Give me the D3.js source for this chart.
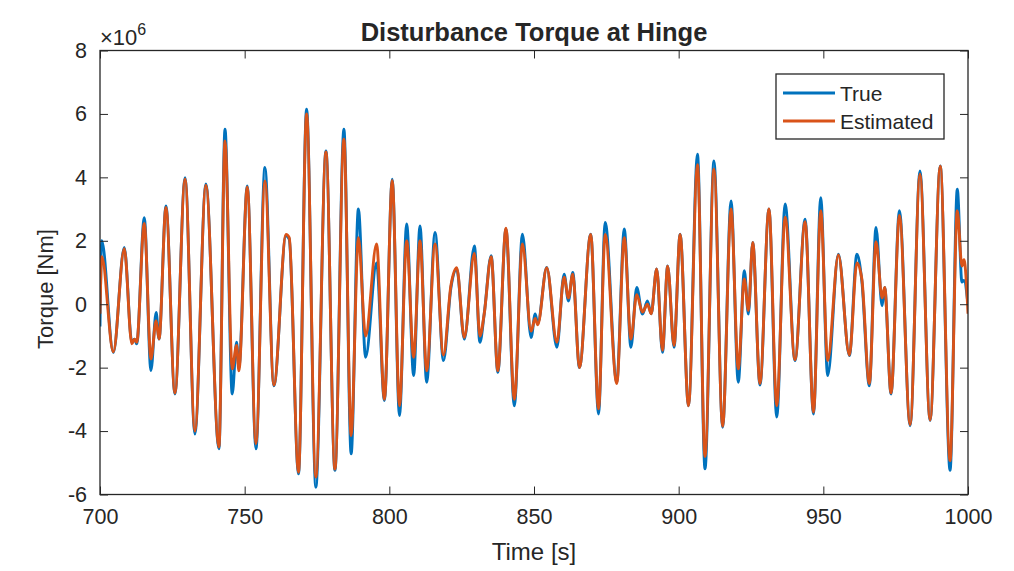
<!DOCTYPE html>
<html>
<head>
<meta charset="utf-8">
<script src="https://cdn.jsdelivr.net/npm/d3@7"></script>
<style>
    body { margin: 0; background: white; }
    text { font-family: "Liberation Sans", Arial, sans-serif; fill: #262626; }
</style>
</head>
<body>
<svg id="chart"></svg>
<script>
// sample times [s] at the turning points
const times = [700.0, 700.6, 704.6, 708.4, 711.0, 711.9, 712.7, 715.3, 717.6, 719.4, 720.4, 722.8, 725.9, 729.4, 732.8, 736.6,
    741.1, 743.2, 745.7, 747.2, 748.0, 750.9, 753.9, 757.0, 760.1, 764.3, 765.4, 768.6, 771.4, 774.6, 778.1, 781.2,
    784.3, 786.8, 789.3, 791.8, 795.6, 798.3, 801.0, 803.5, 806.0, 808.4, 810.6, 812.9, 815.8, 818.7, 821.3, 823.3,
    825.9, 829.4, 831.3, 832.8, 835.2, 837.5, 840.3, 843.2, 846.0, 849.0, 850.4, 851.3, 854.4, 857.9, 860.4, 861.9,
    863.4, 865.7, 869.6, 872.3, 874.6, 878.6, 881.2, 883.5, 885.5, 887.5, 889.2, 890.5, 892.4, 894.4, 896.2, 898.4,
    900.5, 903.4, 906.5, 909.1, 912.2, 915.2, 918.1, 920.6, 922.7, 924.1, 925.6, 928.1, 931.2, 933.9, 936.8, 940.2,
    943.7, 946.6, 949.1, 951.5, 955.2, 959.0, 961.6, 963.3, 965.9, 968.2, 970.3, 971.2, 973.4, 976.3, 980.0, 983.4,
    986.9, 990.4, 993.8, 996.3, 997.9, 998.6, 1000.0];
// torque [x 10^6 Nm]
const trueTorque = [-0.7, 2.0, -1.52, 1.79, -1.2, -1.1, -1.25, 2.73, -2.09, -0.26, -1.1, 3.1, -2.83, 3.99, -4.09, 3.79,
    -4.56, 5.52, -2.83, -1.2, -2.0, 3.73, -4.56, 4.31, -2.57, 2.16, 2.05, -5.35, 6.15, -5.77, 4.83, -5.24,
    5.52, -4.72, 3.0, -1.67, 1.3, -3.04, 3.94, -3.51, 2.53, -2.25, 2.47, -2.46, 2.26, -1.78, 0.53, 1.11,
    -1.1, 1.84, -1.2, -0.3, 1.53, -2.15, 2.37, -3.2, 2.21, -1.05, -0.31, -0.6, 1.16, -1.36, 0.95, 0.1,
    1.0, -2.0, 2.21, -3.46, 2.58, -2.46, 2.37, -1.36, 0.53, -0.31, 0.1, -0.3, 1.11, -1.52, 1.21, -1.36,
    2.21, -3.2, 4.73, -5.19, 4.52, -3.88, 3.26, -2.46, 1.06, -0.31, 1.95, -2.55, 3.0, -3.56, 3.16, -1.78,
    2.68, -3.46, 3.36, -2.25, 1.58, -1.62, 1.58, 0.74, -2.57, 2.42, -0.05, 0.53, -2.83, 2.95, -3.83, 4.2,
    -3.67, 4.36, -5.24, 3.63, 0.7, 0.75, 0.0];
const estTorque = [-0.3, 1.5, -1.5, 1.75, -1.25, -1.1, -1.2, 2.55, -1.73, -0.52, -1.1, 3.05, -2.8, 3.95, -4.0, 3.75,
    -4.5, 5.15, -2.04, -1.3, -2.1, 3.7, -4.4, 3.89, -2.55, 2.2, 2.1, -5.3, 6.0, -5.45, 4.8, -5.2,
    5.2, -4.14, 2.1, -1.0, 1.9, -3.0, 3.9, -3.2, 2.0, -1.67, 2.0, -2.1, 1.9, -1.6, 0.6, 1.15,
    -1.05, 1.6, -1.0, -0.3, 1.5, -2.1, 2.4, -3.0, 1.9, -0.85, -0.45, -0.65, 1.15, -1.2, 0.85, 0.2,
    0.95, -2.0, 2.2, -3.3, 2.2, -2.5, 2.1, -1.1, 0.3, -0.25, 0.0, -0.3, 1.11, -1.45, 1.2, -1.3,
    2.2, -3.2, 4.4, -4.8, 4.26, -3.85, 3.0, -2.04, 0.8, -0.2, 1.95, -2.5, 3.0, -3.2, 2.74, -1.75,
    2.6, -3.4, 2.95, -1.78, 1.55, -1.6, 1.3, 0.8, -2.5, 1.97, 0.2, 0.53, -2.8, 2.8, -3.8, 4.1,
    -3.65, 4.35, -4.93, 2.95, 1.2, 1.4, -0.3];
const xTicks = [700, 750, 800, 850, 900, 950, 1000];
const yTicks = [-6, -4, -2, 0, 2, 4, 6, 8];
const seriesNames = ["True", "Estimated"];
const seriesColors = ["#0072BD", "#D95319"];

const width = 1014;
const height = 571;
const plotLeft = 100, plotRight = 968, plotTop = 50.5, plotBottom = 494.5;
const axisColor = "#262626";
const tickLen = 8;
const lineWidth = 2.9;

const svg = d3.select("#chart")
    .attr("width", width)
    .attr("height", height);

const x = d3.scaleLinear().domain([700, 1000]).range([plotLeft, plotRight]);
const y = d3.scaleLinear().domain([-6, 8]).range([plotBottom, plotTop]);

// data lines (clipped to the axes box)
svg.append("clipPath").attr("id", "plotClip")
    .append("rect")
    .attr("x", plotLeft).attr("y", plotTop)
    .attr("width", plotRight - plotLeft).attr("height", plotBottom - plotTop);

const line = d3.line()
    .x(d => x(d[0]))
    .y(d => y(d[1]))
    .curve(d3.curveMonotoneX);

const series = [trueTorque, estTorque].map(vals => times.map((t, i) => [t, vals[i]]));

svg.append("g")
    .attr("clip-path", "url(#plotClip)")
    .selectAll("path")
    .data(series)
    .enter()
    .append("path")
    .attr("d", line)
    .attr("fill", "none")
    .attr("stroke", (d, i) => seriesColors[i])
    .attr("stroke-width", lineWidth)
    .attr("stroke-linejoin", "round");

// axes, matlab style: box on, ticks pointing inward on all four sides
const axisStyle = g => {
    g.select(".domain").remove();
    g.selectAll("line").attr("stroke", axisColor).attr("stroke-width", 1);
    g.selectAll("text")
        .style("font-size", "21.5px")
        .attr("fill", axisColor);
};

svg.append("g")
    .attr("transform", `translate(0, ${plotBottom})`)
    .call(d3.axisBottom(x).tickValues(xTicks).tickSize(-tickLen).tickPadding(14).tickFormat(d => d))
    .call(axisStyle);
svg.append("g")
    .attr("transform", `translate(0, ${plotTop})`)
    .call(d3.axisTop(x).tickValues(xTicks).tickSize(-tickLen).tickFormat(""))
    .call(axisStyle);
svg.append("g")
    .attr("transform", `translate(${plotLeft}, 0)`)
    .call(d3.axisLeft(y).tickValues(yTicks).tickSize(-tickLen).tickPadding(13).tickFormat(d => d))
    .call(axisStyle);
svg.append("g")
    .attr("transform", `translate(${plotRight}, 0)`)
    .call(d3.axisRight(y).tickValues(yTicks).tickSize(-tickLen).tickFormat(""))
    .call(axisStyle);

svg.append("rect")
    .attr("x", plotLeft).attr("y", plotTop)
    .attr("width", plotRight - plotLeft).attr("height", plotBottom - plotTop)
    .attr("fill", "none")
    .attr("stroke", axisColor)
    .attr("stroke-width", 1.3);

// exponent label
const expo = svg.append("text")
    .attr("x", plotLeft)
    .attr("y", plotTop - 6)
    .style("font-size", "22px")
    .attr("fill", axisColor);
expo.append("tspan").text("\u00d710");
expo.append("tspan").attr("dy", -10).style("font-size", "16px").text("6");

// title and labels
svg.append("text")
    .attr("x", (plotLeft + plotRight) / 2)
    .attr("y", 41)
    .attr("text-anchor", "middle")
    .style("font-size", "25.5px")
    .style("font-weight", "bold")
    .attr("fill", "#000")
    .text("Disturbance Torque at Hinge");

svg.append("text")
    .attr("x", (plotLeft + plotRight) / 2)
    .attr("y", 560)
    .attr("text-anchor", "middle")
    .style("font-size", "24px")
    .text("Time [s]");

svg.append("text")
    .attr("transform", `translate(53, 289) rotate(-90)`)
    .attr("text-anchor", "middle")
    .style("font-size", "22px")
    .text("Torque [Nm]");

// legend
const legend = svg.append("g").attr("transform", "translate(776, 74)");
legend.append("rect")
    .attr("width", 168).attr("height", 65)
    .attr("fill", "white")
    .attr("stroke", axisColor)
    .attr("stroke-width", 1.3);
const legendItem = legend.selectAll("g.item")
    .data(seriesNames)
    .enter()
    .append("g")
    .attr("class", "item")
    .attr("transform", (d, i) => `translate(0, ${19 + i * 28})`);
legendItem.append("line")
    .attr("x1", 7).attr("x2", 59)
    .attr("stroke", (d, i) => seriesColors[i])
    .attr("stroke-width", lineWidth);
legendItem.append("text")
    .attr("x", 64)
    .attr("y", 7.5)
    .style("font-size", "21px")
    .attr("fill", "#000")
    .text(d => d);
</script>
</body>
</html>
